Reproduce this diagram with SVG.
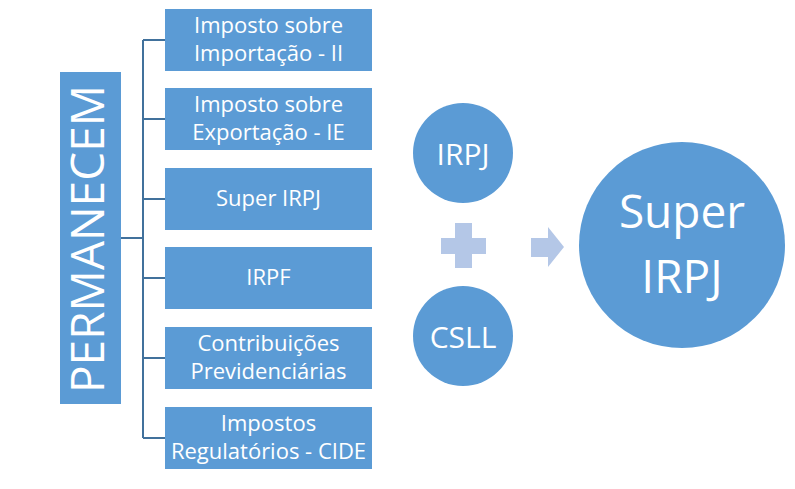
<svg xmlns="http://www.w3.org/2000/svg" width="795" height="489" viewBox="0 0 795 489">
<style>
.box{fill:#5B9BD5;}
.t{font-family:"Open Sans","Liberation Sans",sans-serif;fill:#ffffff;text-anchor:middle;}
.bt{font-size:22px;}
.conn{stroke:#41719C;stroke-width:2;fill:none;}
.light{fill:#B4C7E7;}
</style>
<rect width="795" height="489" fill="#ffffff"/>
<g id="connectors">
<path class="conn" d="M121 238H143M143 40V438M143 40H165M143 119H165M143 199H165M143 278H165M143 358H165M143 438H165"/>
</g>
<g id="permanecem">
<rect class="box" x="60" y="72" width="61" height="332"/>
<text class="t" font-size="46" transform="translate(104 239) rotate(-90)">PERMANECEM</text>
</g>
<g id="n1"><rect class="box" x="165" y="9" width="207" height="62"/>
<text class="t bt" x="268.5" y="33">Imposto sobre</text><text class="t bt" x="268.5" y="61">Importação - II</text></g>
<g id="n2"><rect class="box" x="165" y="88" width="207" height="62"/>
<text class="t bt" x="268.5" y="112">Imposto sobre</text><text class="t bt" x="268.5" y="140">Exportação - IE</text></g>
<g id="n3"><rect class="box" x="165" y="168" width="207" height="62"/>
<text class="t bt" x="268.5" y="206">Super IRPJ</text></g>
<g id="n4"><rect class="box" x="165" y="247" width="207" height="62"/>
<text class="t bt" x="268.5" y="285">IRPF</text></g>
<g id="n5"><rect class="box" x="165" y="327" width="207" height="62"/>
<text class="t bt" x="268.5" y="351">Contribuições</text><text class="t bt" x="268.5" y="379">Previdenciárias</text></g>
<g id="n6"><rect class="box" x="165" y="407" width="207" height="62"/>
<text class="t bt" x="268.5" y="431">Impostos</text><text class="t bt" x="268.5" y="459">Regulatórios - CIDE</text></g>
<g id="irpj"><circle class="box" cx="463" cy="153" r="50"/>
<text class="t" font-size="30" x="463" y="165">IRPJ</text></g>
<g id="csll"><circle class="box" cx="463" cy="336" r="50"/>
<text class="t" font-size="30" x="463" y="348">CSLL</text></g>
<g id="plus"><path class="light" d="M455 223H472V238H486V254H472V268H455V254H441V238H455Z"/></g>
<g id="arrow"><path class="light" d="M531 238H548V227L564 247L548 267V257H531Z"/></g>
<g id="super"><circle class="box" cx="682" cy="245" r="103"/>
<text class="t" font-size="46" x="682" y="228">Super</text>
<text class="t" font-size="46" x="682" y="293">IRPJ</text></g>
</svg>
